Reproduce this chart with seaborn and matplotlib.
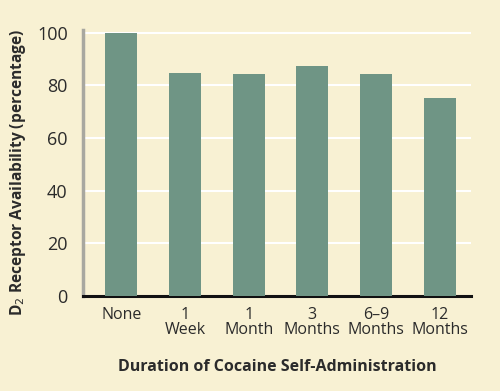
import matplotlib
matplotlib.use("Agg")
import matplotlib.pyplot as plt
import seaborn as sns
import pandas as pd

categories = ["None", "1\nWeek", "1\nMonth", "3\nMonths", "6–9\nMonths", "12\nMonths"]
values = [100, 84.8, 84.3, 87.3, 84.4, 75.2]
yticks = [0, 20, 40, 60, 80, 100]

sns.set_theme(style="white")
plt.rcParams['font.family'] = ['Open Sans', 'DejaVu Sans']

bg = "#F8F1D3"
bar_color = "#6F9585"
text_color = "#2b2b2b"

df = pd.DataFrame({"duration": categories, "availability": values})

fig = plt.figure(figsize=(5, 3.91), dpi=100, facecolor=bg)
ax = fig.add_axes([0.166, 0.243, 0.776, 0.68])
ax.set_facecolor(bg)

sns.barplot(data=df, x="duration", y="availability", color=bar_color,
            width=0.5, saturation=1, ax=ax, zorder=3, linewidth=0)

ax.set_ylim(0, 101)
ax.set_xlim(-0.6, 5.49)
ax.set_yticks(yticks)
ax.yaxis.grid(True, color="white", linewidth=1.5, zorder=0)
ax.set_axisbelow(True)

for s in ["top", "right"]:
    ax.spines[s].set_visible(False)
ax.spines["left"].set_color("#a8a8a0")
ax.spines["left"].set_linewidth(2.5)
ax.spines["bottom"].set_color("#111111")
ax.spines["bottom"].set_linewidth(2.2)

ax.tick_params(axis="both", length=0, colors=text_color)
ax.tick_params(axis="y", pad=11, labelsize=13)
ax.tick_params(axis="x", pad=8, labelsize=11.5)
for lab in ax.get_xticklabels():
    lab.set_linespacing(0.92)

ax.set_xlabel("Duration of Cocaine Self-Administration", fontsize=11.5,
              fontweight="bold", color=text_color, labelpad=15)
ax.set_ylabel("D$_2$ Receptor Availability (percentage)", fontsize=11.2,
              fontweight="bold", color=text_color)
ax.yaxis.set_label_coords(-0.143, 0.465)

fig.savefig("out.png", dpi=100, facecolor=bg)
